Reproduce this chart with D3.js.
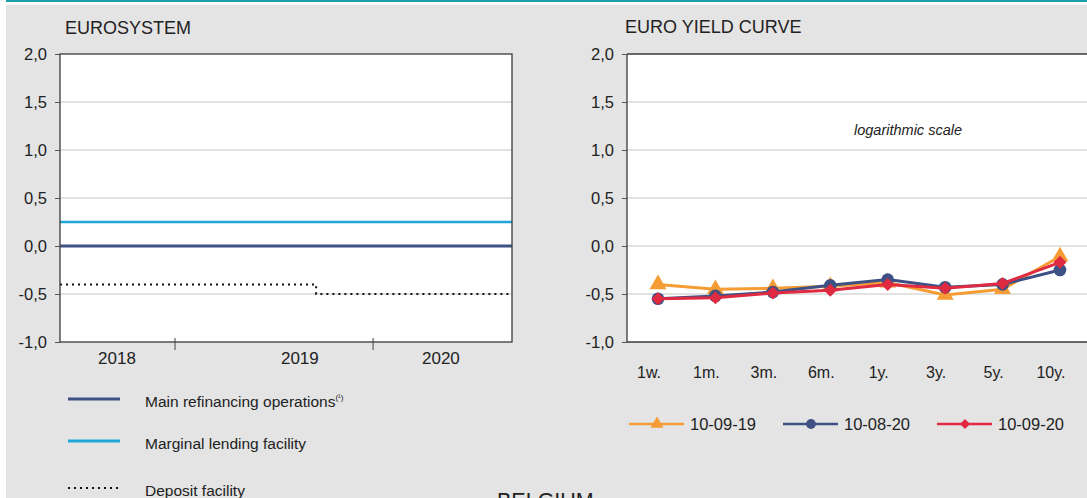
<!DOCTYPE html>
<html>
<head>
<meta charset="utf-8">
<script src="https://cdn.jsdelivr.net/npm/d3@7"></script>
<style>
  body { margin: 0; background: #fff; }
  svg { display: block; font-family: "Liberation Sans", Arial, sans-serif; }
</style>
</head>
<body>
<div id="chart"></div>
<script>
// ---- Eurosystem policy rates (left panel)
var rateDates = ["2018-06-03", "2019-09-18", "2020-09-13"];
var mainRefi = [0, 0, 0];
var marginalLending = [0.25, 0.25, 0.25];
var depositFacility = [-0.40, -0.50, -0.50];
var yearTickDates = ["2019-01-01", "2020-01-01"];
var yearLabels = ["2018", "2019", "2020"];
var yearLabelDates = ["2018-09-16", "2019-08-19", "2020-05-05"];
var rateTicks = [2, 1.5, 1, 0.5, 0, -0.5, -1];
var rateNames = ["Main refinancing operations", "Marginal lending facility", "Deposit facility"];

// ---- Euro yield curve (right panel)
var maturities = ["1w.", "1m.", "3m.", "6m.", "1y.", "3y.", "5y.", "10y."];
var curve190910 = [-0.40, -0.45, -0.44, -0.42, -0.38, -0.51, -0.45, -0.11];
var curve200810 = [-0.55, -0.52, -0.48, -0.41, -0.35, -0.43, -0.40, -0.25];
var curve200910 = [-0.55, -0.54, -0.49, -0.46, -0.40, -0.44, -0.39, -0.17];
var curveNames = ["10-09-19", "10-08-20", "10-09-20"];

var width = 1087, height = 498;
var navy = "#3d5185", lightBlue = "#1fa7db", orange = "#f59c34", red = "#df2a42",
    panelGrey = "#e4e4e4", gridGrey = "#e2e2e2", frameColor = "#3a3a3a", textColor = "#222";

var locale = d3.formatLocale({decimal: ",", thousands: ".", grouping: [3], currency: ["", "€"], minus: "-"});
var fmt = locale.format(".1f");
var parse = d3.utcParse("%Y-%m-%d");

var svg = d3.select("#chart").append("svg")
  .attr("width", width)
  .attr("height", height);

// page background + teal rule on top
svg.append("rect").attr("x", 0).attr("y", 0).attr("width", width).attr("height", height).attr("fill", "#fff");
svg.append("rect").attr("x", 6).attr("y", 0).attr("width", width - 6).attr("height", 2).attr("fill", "#1a9fa6");
svg.append("rect").attr("x", 6).attr("y", 5).attr("width", width - 6).attr("height", height - 5).attr("fill", panelGrey);

var plotTop = 54, plotBottom = 342;
var y = d3.scaleLinear().domain([-1, 2]).range([plotBottom, plotTop]);

// ================= LEFT PANEL =================
var lx0 = 60, lx1 = 512;
var xTime = d3.scaleUtc()
  .domain([parse(rateDates[0]), parse(rateDates[rateDates.length - 1])])
  .range([lx0, lx1]);

var left = svg.append("g");
left.append("text").attr("x", 65).attr("y", 34).attr("font-size", 18).attr("fill", textColor).text("EUROSYSTEM");

left.append("rect").attr("x", lx0).attr("y", plotTop).attr("width", lx1 - lx0).attr("height", plotBottom - plotTop).attr("fill", "#fff");

left.selectAll(".grid").data(rateTicks.filter(function(d) { return d > -1 && d < 2; }))
  .enter().append("line")
  .attr("x1", lx0).attr("x2", lx1)
  .attr("y1", function(d) { return y(d); }).attr("y2", function(d) { return y(d); })
  .attr("stroke", gridGrey).attr("stroke-width", 2);

var rateLine = d3.line()
  .x(function(d) { return xTime(d.date); })
  .y(function(d) { return y(d.v); })
  .curve(d3.curveStepAfter);

function toSeries(vals) {
  return rateDates.map(function(d, i) { return {date: parse(d), v: vals[i]}; });
}

left.append("path").datum(toSeries(depositFacility)).attr("d", rateLine)
  .attr("fill", "none").attr("stroke", "#111").attr("stroke-width", 2)
  .attr("stroke-dasharray", "2,4");
left.append("path").datum(toSeries(marginalLending)).attr("d", rateLine)
  .attr("fill", "none").attr("stroke", lightBlue).attr("stroke-width", 2.5);
left.append("path").datum(toSeries(mainRefi)).attr("d", rateLine)
  .attr("fill", "none").attr("stroke", navy).attr("stroke-width", 3);

left.append("rect").attr("x", lx0).attr("y", plotTop).attr("width", lx1 - lx0).attr("height", plotBottom - plotTop)
  .attr("fill", "none").attr("stroke", frameColor).attr("stroke-width", 1.3);

var yAxisL = left.append("g").attr("transform", "translate(" + lx0 + ",0)")
  .call(d3.axisLeft(y).tickValues(rateTicks).tickSize(5).tickPadding(8).tickFormat(fmt));
yAxisL.select(".domain").remove();
yAxisL.selectAll("line").attr("stroke", "#555");
yAxisL.selectAll("text").attr("font-size", 16.5).attr("fill", textColor).attr("font-family", "Liberation Sans, Arial, sans-serif");

left.selectAll(".ytick").data(yearTickDates).enter().append("line")
  .attr("x1", function(d) { return xTime(parse(d)); }).attr("x2", function(d) { return xTime(parse(d)); })
  .attr("y1", plotBottom - 4).attr("y2", plotBottom + 8)
  .attr("stroke", "#444").attr("stroke-width", 1);

left.selectAll(".ylab").data(yearLabels).enter().append("text")
  .attr("x", function(d, i) { return xTime(parse(yearLabelDates[i])); })
  .attr("y", plotBottom + 22)
  .attr("text-anchor", "middle").attr("font-size", 17).attr("fill", textColor)
  .text(function(d) { return d; });

// left legend
var legL = left.append("g");
var legRows = [
  {name: rateNames[0], color: navy, width: 3, dash: null, y: 399},
  {name: rateNames[1], color: lightBlue, width: 3, dash: null, y: 441},
  {name: rateNames[2], color: "#111", width: 2, dash: "2,4", y: 488}
];
legRows.forEach(function(r, i) {
  legL.append("line").attr("x1", 68).attr("x2", 120).attr("y1", r.y).attr("y2", r.y)
    .attr("stroke", r.color).attr("stroke-width", r.width)
    .attr("stroke-dasharray", r.dash);
  var t = legL.append("text").attr("x", 145).attr("y", r.y + 8).attr("font-size", 15.5).attr("fill", textColor).text(r.name);
  if (i === 0) {
    t.append("tspan").attr("font-size", 8).attr("dy", -7).text("(¹)");
  }
});

// ================= RIGHT PANEL =================
var rx0 = 627, rx1 = 1087;
var xCat = d3.scalePoint().domain(maturities).range([rx0, 1091]).padding(0.54);

var right = svg.append("g");
right.append("text").attr("x", 625).attr("y", 33).attr("font-size", 18).attr("fill", textColor).text("EURO YIELD CURVE");

right.append("rect").attr("x", rx0).attr("y", plotTop).attr("width", rx1 - rx0).attr("height", plotBottom - plotTop).attr("fill", "#fff");

right.selectAll(".grid").data(rateTicks.filter(function(d) { return d > -1 && d < 2; }))
  .enter().append("line")
  .attr("x1", rx0).attr("x2", rx1)
  .attr("y1", function(d) { return y(d); }).attr("y2", function(d) { return y(d); })
  .attr("stroke", gridGrey).attr("stroke-width", 2);

right.append("line").attr("x1", rx0).attr("x2", rx1).attr("y1", plotTop).attr("y2", plotTop).attr("stroke", frameColor).attr("stroke-width", 1.3);
right.append("line").attr("x1", rx0).attr("x2", rx1).attr("y1", plotBottom).attr("y2", plotBottom).attr("stroke", frameColor).attr("stroke-width", 1.3);
right.append("line").attr("x1", rx0).attr("x2", rx0).attr("y1", plotTop).attr("y2", plotBottom).attr("stroke", frameColor).attr("stroke-width", 1.3);

var yAxisR = right.append("g").attr("transform", "translate(" + rx0 + ",0)")
  .call(d3.axisLeft(y).tickValues(rateTicks).tickSize(5).tickPadding(8).tickFormat(fmt));
yAxisR.select(".domain").remove();
yAxisR.selectAll("line").attr("stroke", "#555");
yAxisR.selectAll("text").attr("font-size", 16.5).attr("fill", textColor).attr("font-family", "Liberation Sans, Arial, sans-serif");

right.append("text").attr("x", 908).attr("y", 135).attr("text-anchor", "middle")
  .attr("font-size", 14.5).attr("font-style", "italic").attr("fill", textColor).text("logarithmic scale");

right.selectAll(".mlab").data(maturities).enter().append("text")
  .attr("x", function(d) { return xCat(d) - 9; })
  .attr("y", 378)
  .attr("text-anchor", "middle").attr("font-size", 16).attr("fill", textColor)
  .text(function(d) { return d; });

// diamonds are drawn as squares turned by 45 degrees (wider than d3.symbolDiamond)
var curves = [
  {name: curveNames[0], vals: curve190910, color: orange, symbol: d3.symbolTriangle, size: 125, rot: 0},
  {name: curveNames[1], vals: curve200810, color: navy, symbol: d3.symbolCircle, size: 125, rot: 0},
  {name: curveNames[2], vals: curve200910, color: red, symbol: d3.symbolSquare, size: 85, rot: 45}
];

var curveLine = d3.line()
  .x(function(d) { return xCat(d.m); })
  .y(function(d) { return y(d.v); });

curves.forEach(function(c) {
  var pts = maturities.map(function(m, i) { return {m: m, v: c.vals[i]}; });
  var g = right.append("g");
  g.append("path").datum(pts).attr("d", curveLine)
    .attr("fill", "none").attr("stroke", c.color).attr("stroke-width", 3);
  g.selectAll("path.mk").data(pts).enter().append("path")
    .attr("class", "mk")
    .attr("transform", function(d) { return "translate(" + xCat(d.m) + "," + y(d.v) + ") rotate(" + c.rot + ")"; })
    .attr("d", d3.symbol().type(c.symbol).size(c.size))
    .attr("fill", c.color);
});

// right legend
var legR = right.append("g");
curves.forEach(function(c, i) {
  var lx = 629 + i * 154, ly = 424;
  legR.append("line").attr("x1", lx).attr("x2", lx + 55).attr("y1", ly).attr("y2", ly)
    .attr("stroke", c.color).attr("stroke-width", 2.5);
  legR.append("path").attr("transform", "translate(" + (lx + 28) + "," + ly + ") rotate(" + c.rot + ")")
    .attr("d", d3.symbol().type(c.symbol).size(c.size * 0.6)).attr("fill", c.color);
  legR.append("text").attr("x", lx + 61).attr("y", ly + 6).attr("font-size", 16.5).attr("fill", textColor).text(c.name);
});

// next section heading, cut off at the bottom edge
svg.append("text").attr("x", 497).attr("y", 508).attr("font-size", 21.5).attr("fill", textColor).text("BELGIUM");
</script>
</body>
</html>
